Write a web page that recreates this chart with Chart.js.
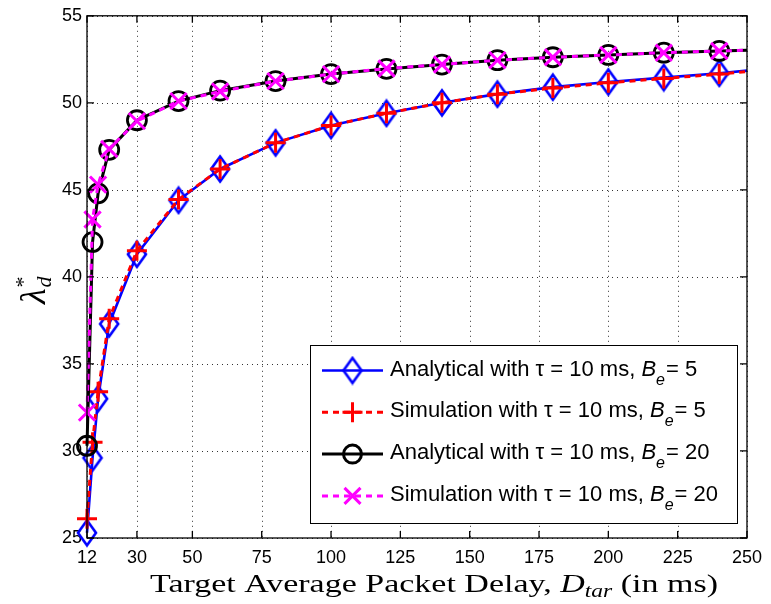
<!DOCTYPE html>
<html>
<head>
<meta charset="utf-8">
<script src="https://cdn.jsdelivr.net/npm/chart.js@4.4.1/dist/chart.umd.min.js"></script>
<style>
  html, body { margin: 0; padding: 0; background: #fff; }
  canvas { display: block; }
</style>
</head>
<body>
<canvas id="delayChart" width="771" height="604"></canvas>
<script>
// target average packet delay (ms)
const delays = [12, 14, 16, 20, 30, 45, 60, 80, 100, 120, 140, 160, 180, 200, 220, 240, 250];
// lambda*_d values
const analyticalB5  = [25.3, 29.6, 33.0, 37.3, 41.3, 44.4, 46.2, 47.7, 48.7, 49.4, 50.0, 50.5, 50.9, 51.2, 51.45, 51.7, 51.85];
const simulationB5  = [26.1, 30.5, 33.4, 37.6, 41.5, 44.45, 46.2, 47.7, 48.7, 49.4, 50.0, 50.5, 50.85, 51.15, 51.4, 51.65, 51.8];
const analyticalB20 = [30.3, 42.0, 44.8, 47.3, 49.0, 50.1, 50.7, 51.25, 51.65, 51.95, 52.2, 52.45, 52.62, 52.75, 52.88, 52.98, 53.02];
const simulationB20 = [32.2, 43.3, 45.3, 47.35, 48.95, 50.1, 50.65, 51.25, 51.65, 51.97, 52.2, 52.45, 52.62, 52.75, 52.88, 52.98, 53.02];

const xTicks = [12, 30, 50, 75, 100, 125, 150, 175, 200, 225, 250];
const yTicks = [25, 30, 35, 40, 45, 50, 55];

const legendLabels = [
  ['Analytical with \u03c4 = 10 ms, ', 'B', 'e', '= 5'],
  ['Simulation with \u03c4 = 10 ms, ', 'B', 'e', '= 5'],
  ['Analytical with \u03c4 = 10 ms, ', 'B', 'e', '= 20'],
  ['Simulation with \u03c4 = 10 ms, ', 'B', 'e', '= 20']
];

const toPoints = ys => delays.map((d, i) => ({ x: d, y: ys[i] }));
// last point (x = 250) only continues the line, no marker
const markerRadius = r => delays.map((d, i) => i === delays.length - 1 ? 0 : r);

// tall diamond marker as used by the original plot
function makeDiamond() {
  const c = document.createElement('canvas');
  c.width = 24; c.height = 30;
  const g = c.getContext('2d');
  g.strokeStyle = '#0000ff';
  g.lineWidth = 2.6;
  g.beginPath();
  g.moveTo(12, 2.5); g.lineTo(21, 15); g.lineTo(12, 27.5); g.lineTo(3, 15);
  g.closePath();
  g.stroke();
  return c;
}
const diamond = makeDiamond();

function drawMarker(ctx, kind, x, y) {
  ctx.save();
  ctx.lineWidth = 3;
  ctx.beginPath();
  if (kind === 'diamond') {
    ctx.drawImage(diamond, x - 12, y - 15);
  } else if (kind === 'cross') {
    ctx.strokeStyle = '#ff0000';
    ctx.moveTo(x - 10, y); ctx.lineTo(x + 10, y);
    ctx.moveTo(x, y - 10); ctx.lineTo(x, y + 10);
  } else if (kind === 'circle') {
    ctx.strokeStyle = '#000';
    ctx.arc(x, y, 9, 0, Math.PI * 2);
  } else {
    ctx.strokeStyle = '#ff00ff';
    ctx.moveTo(x - 8, y - 8); ctx.lineTo(x + 8, y + 8);
    ctx.moveTo(x + 8, y - 8); ctx.lineTo(x - 8, y + 8);
  }
  ctx.stroke();
  ctx.restore();
}

function drawLegend(ctx) {
  const bx = 310, by = 345, bw = 427, bh = 178;
  ctx.fillStyle = '#fff';
  ctx.fillRect(bx, by, bw, bh);
  ctx.strokeStyle = '#000';
  ctx.lineWidth = 1;
  ctx.strokeRect(bx + 0.5, by + 0.5, bw, bh);

  const styles = [
    { color: '#0000ff', dash: [], width: 2.6, marker: 'diamond' },
    { color: '#ff0000', dash: [6, 5], width: 3, marker: 'cross' },
    { color: '#000000', dash: [], width: 3, marker: 'circle' },
    { color: '#ff00ff', dash: [6, 5], width: 3, marker: 'xcross' }
  ];
  legendLabels.forEach((parts, i) => {
    const yc = 370.5 + i * 41.8;
    const s = styles[i];
    ctx.save();
    ctx.strokeStyle = s.color;
    ctx.lineWidth = s.width;
    ctx.setLineDash(s.dash);
    ctx.beginPath();
    ctx.moveTo(322, yc); ctx.lineTo(383, yc);
    ctx.stroke();
    ctx.restore();
    drawMarker(ctx, s.marker, 352.5, yc);

    ctx.fillStyle = '#000';
    ctx.textBaseline = 'alphabetic';
    ctx.textAlign = 'left';
    let x = 390;
    const base = yc + 5;
    ctx.font = '22px "Liberation Sans"';
    ctx.fillText(parts[0], x, base);
    x += ctx.measureText(parts[0]).width;
    ctx.font = 'italic 22px "Liberation Sans"';
    ctx.fillText(parts[1], x, base);
    x += ctx.measureText(parts[1]).width;
    ctx.font = 'italic 16px "Liberation Sans"';
    ctx.fillText(parts[2], x, base + 9);
    x += ctx.measureText(parts[2]).width + 1;
    ctx.font = '22px "Liberation Sans"';
    ctx.fillText(parts[3], x, base);
  });
}

function drawTitles(ctx) {
  // x-axis title, serif with italic D_tar
  const segs = [
    { t: 'Target Average Packet Delay, ', f: '26px "Liberation Serif"', dy: 0 },
    { t: 'D', f: 'italic 26px "Liberation Serif"', dy: 0 },
    { t: 'tar', f: 'italic 18px "Liberation Serif"', dy: 5 },
    { t: ' (in ms)', f: '26px "Liberation Serif"', dy: 0 }
  ];
  let total = 0;
  segs.forEach(s => { ctx.font = s.f; s.w = ctx.measureText(s.t).width; total += s.w; });
  const target = 568;
  ctx.save();
  ctx.translate(150, 592);
  ctx.scale(target / total, 1);
  ctx.fillStyle = '#000';
  ctx.textAlign = 'left';
  ctx.textBaseline = 'alphabetic';
  let x = 0;
  segs.forEach(s => { ctx.font = s.f; ctx.fillText(s.t, x, s.dy); x += s.w; });
  ctx.restore();

  // y-axis title lambda*_d, rotated
  ctx.save();
  ctx.translate(45, 304);
  ctx.rotate(-Math.PI / 2);
  ctx.fillStyle = '#000';
  ctx.textAlign = 'left';
  ctx.font = 'italic 36px "Liberation Serif"';
  ctx.fillText('\u03bb', 0, 0);
  const lw = ctx.measureText('\u03bb').width;
  ctx.font = '22px "Liberation Serif"';
  ctx.fillText('*', lw + 1, -15);
  ctx.font = 'italic 22px "Liberation Serif"';
  ctx.fillText('d', lw + 1, 6);
  ctx.restore();
}

const framePlugin = {
  id: 'framePlugin',
  beforeDraw(chart) {
    const ctx = chart.ctx;
    ctx.save();
    ctx.fillStyle = '#fff';
    ctx.fillRect(0, 0, chart.width, chart.height);
    ctx.restore();
  },
  beforeDatasetsDraw(chart) {
    // dotted grid at every tick
    const ctx = chart.ctx;
    const a = chart.chartArea;
    const xs = chart.scales.x, ys = chart.scales.y;
    ctx.save();
    ctx.strokeStyle = '#333';
    ctx.lineWidth = 1;
    ctx.setLineDash([1, 4]);
    ctx.beginPath();
    xTicks.forEach(v => {
      const px = Math.round(xs.getPixelForValue(v)) + 0.5;
      ctx.moveTo(px, a.top); ctx.lineTo(px, a.bottom);
    });
    yTicks.forEach(v => {
      const py = Math.round(ys.getPixelForValue(v)) + 0.5;
      ctx.moveTo(a.left, py); ctx.lineTo(a.right, py);
    });
    ctx.stroke();
    ctx.restore();
  },
  afterDraw(chart) {
    const ctx = chart.ctx;
    const a = chart.chartArea;
    const xs = chart.scales.x, ys = chart.scales.y;
    ctx.save();
    ctx.strokeStyle = '#000';
    ctx.lineWidth = 1.3;
    ctx.strokeRect(a.left, a.top, a.right - a.left, a.bottom - a.top);
    ctx.beginPath();
    xTicks.forEach(v => {
      const px = xs.getPixelForValue(v);
      ctx.moveTo(px, a.bottom); ctx.lineTo(px, a.bottom - 7);
      ctx.moveTo(px, a.top); ctx.lineTo(px, a.top + 7);
    });
    yTicks.forEach(v => {
      const py = ys.getPixelForValue(v);
      ctx.moveTo(a.left, py); ctx.lineTo(a.left + 7, py);
      ctx.moveTo(a.right, py); ctx.lineTo(a.right - 7, py);
    });
    ctx.stroke();
    ctx.restore();
    drawLegend(ctx);
    drawTitles(ctx);
  }
};

new Chart(document.getElementById('delayChart'), {
  type: 'line',
  data: {
    datasets: [
      {
        label: 'Analytical, Be = 5',
        data: toPoints(analyticalB5),
        borderColor: '#0000ff',
        borderWidth: 2.6,
        pointStyle: diamond,
        pointRadius: markerRadius(9),
        order: 4
      },
      {
        label: 'Simulation, Be = 5',
        data: toPoints(simulationB5),
        borderColor: '#ff0000',
        borderWidth: 3,
        borderDash: [6, 5],
        pointStyle: 'cross',
        pointRadius: markerRadius(10),
        pointBorderWidth: 3,
        pointBorderColor: '#ff0000',
        order: 3
      },
      {
        label: 'Analytical, Be = 20',
        data: toPoints(analyticalB20),
        borderColor: '#000000',
        borderWidth: 3,
        pointStyle: 'circle',
        pointRadius: markerRadius(9.5),
        pointBorderWidth: 2.8,
        pointBorderColor: '#000000',
        pointBackgroundColor: 'rgba(0,0,0,0)',
        order: 2
      },
      {
        label: 'Simulation, Be = 20',
        data: toPoints(simulationB20),
        borderColor: '#ff00ff',
        borderWidth: 3,
        borderDash: [6, 5],
        pointStyle: 'crossRot',
        pointRadius: markerRadius(11.5),
        pointBorderWidth: 3,
        pointBorderColor: '#ff00ff',
        order: 1
      }
    ]
  },
  options: {
    responsive: false,
    animation: false,
    clip: false,
    layout: { padding: { left: 0, top: 13, right: 18, bottom: 0 } },
    plugins: {
      legend: { display: false },
      tooltip: { enabled: false }
    },
    elements: { line: { tension: 0, fill: false } },
    scales: {
      x: {
        type: 'linear',
        min: 12,
        max: 250,
        afterBuildTicks: s => { s.ticks = xTicks.map(v => ({ value: v })); },
        afterFit: s => { s.height = 66; },
        grid: { display: false, drawTicks: false },
        border: { display: false },
        ticks: { padding: 9, color: '#000', font: { family: 'Liberation Sans', size: 18 }, maxRotation: 0 }
      },
      y: {
        min: 25,
        max: 55,
        afterBuildTicks: s => { s.ticks = yTicks.map(v => ({ value: v })); },
        afterFit: s => { s.width = 87; },
        grid: { display: false, drawTicks: false },
        border: { display: false },
        ticks: { padding: 5, color: '#000', font: { family: 'Liberation Sans', size: 18 } }
      }
    }
  },
  plugins: [framePlugin]
});
</script>
</body>
</html>
